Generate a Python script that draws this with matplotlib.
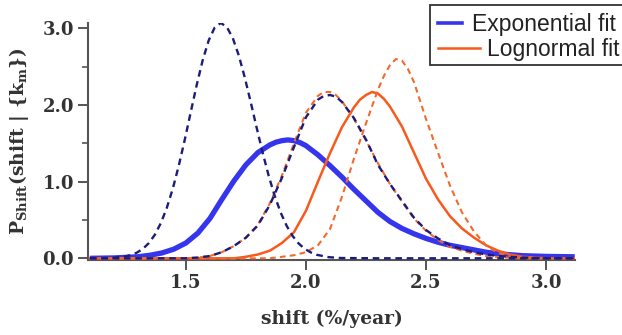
import matplotlib
matplotlib.use("Agg")
import matplotlib.pyplot as plt
from matplotlib.patches import Rectangle
from matplotlib.lines import Line2D
from matplotlib.ticker import MultipleLocator

# ---------------- data ----------------
# navy dashed curve, tall peak near 1.65
xA = [1.10, 1.145, 1.195, 1.245, 1.27, 1.295, 1.32, 1.345, 1.37, 1.395, 1.42, 1.445,
      1.47, 1.495, 1.52, 1.545, 1.57, 1.595, 1.62, 1.645, 1.67, 1.695, 1.72, 1.745,
      1.77, 1.795, 1.82, 1.845, 1.87, 1.895, 1.92, 1.945, 1.97, 1.995, 2.02, 2.045,
      2.095, 2.145, 2.30, 3.12]
yA = [0.0, 0.001, 0.006, 0.023, 0.042, 0.073, 0.122, 0.197, 0.305, 0.456, 0.655, 0.906,
      1.206, 1.545, 1.906, 2.263, 2.586, 2.844, 3.012, 3.070, 3.020, 2.875, 2.649, 2.361,
      2.037, 1.700, 1.374, 1.074, 0.813, 0.595, 0.422, 0.289, 0.192, 0.123, 0.077, 0.046,
      0.015, 0.004, 0.0, 0.0]

# navy dashed curve, peak near 2.10
xB = [1.10, 1.50, 1.55, 1.60, 1.65, 1.70, 1.75, 1.80, 1.85, 1.90, 1.95, 2.00, 2.05,
      2.075, 2.10, 2.125, 2.15, 2.20, 2.25, 2.30, 2.35, 2.40, 2.45, 2.50, 2.55, 2.60,
      2.65, 2.70, 2.75, 2.80, 2.90, 3.00, 3.12]
yB = [0.0, 0.0, 0.01, 0.03, 0.08, 0.16, 0.27, 0.43, 0.70, 1.05, 1.45, 1.84, 2.07,
      2.12, 2.13, 2.11, 2.04, 1.83, 1.55, 1.22, 0.97, 0.75, 0.53, 0.37, 0.26, 0.17,
      0.12, 0.08, 0.05, 0.03, 0.01, 0.0, 0.0]

# orange dashed curve, peak near 2.09
xC = xB
yC = [0.0, 0.0, 0.01, 0.03, 0.08, 0.16, 0.27, 0.44, 0.72, 1.08, 1.50, 1.90, 2.12,
      2.17, 2.17, 2.13, 2.05, 1.82, 1.54, 1.24, 0.97, 0.74, 0.52, 0.36, 0.24, 0.15,
      0.10, 0.06, 0.03, 0.015, 0.0, 0.0, 0.0]

# orange dashed curve, peak near 2.38
xD = [1.10, 1.85, 1.90, 1.95, 2.00, 2.05, 2.10, 2.15, 2.20, 2.25, 2.30, 2.325, 2.35,
      2.375, 2.40, 2.425, 2.45, 2.50, 2.55, 2.60, 2.65, 2.70, 2.75, 2.80, 2.85, 2.90,
      3.00, 3.12]
yD = [0.0, 0.0, 0.02, 0.04, 0.08, 0.17, 0.38, 0.80, 1.30, 1.76, 2.20, 2.38, 2.52,
      2.60, 2.58, 2.47, 2.30, 1.82, 1.38, 0.95, 0.60, 0.35, 0.17, 0.07, 0.03, 0.01,
      0.0, 0.0]

# Lognormal fit (orange solid)
xE = [1.10, 1.70, 1.75, 1.80, 1.85, 1.90, 1.95, 2.00, 2.05, 2.10, 2.15, 2.20, 2.225,
      2.25, 2.275, 2.30, 2.325, 2.35, 2.40, 2.45, 2.50, 2.55, 2.60, 2.65, 2.70, 2.75,
      2.80, 2.85, 2.90, 3.00, 3.12]
yE = [0.0, 0.0, 0.02, 0.05, 0.10, 0.20, 0.34, 0.62, 1.00, 1.37, 1.71, 1.97, 2.07,
      2.13, 2.17, 2.15, 2.08, 1.98, 1.72, 1.38, 1.04, 0.77, 0.55, 0.39, 0.27, 0.17,
      0.10, 0.05, 0.02, 0.0, 0.0]

# Exponential fit (blue solid)
xF = [1.10, 1.20, 1.30, 1.35, 1.40, 1.45, 1.50, 1.55, 1.60, 1.65, 1.70, 1.75, 1.80,
      1.85, 1.875, 1.90, 1.925, 1.95, 1.975, 2.00, 2.05, 2.10, 2.15, 2.20, 2.25, 2.30,
      2.35, 2.40, 2.45, 2.50, 2.55, 2.60, 2.65, 2.70, 2.75, 2.80, 2.90, 3.00, 3.12]
yF = [0.0, 0.005, 0.02, 0.04, 0.07, 0.12, 0.20, 0.33, 0.52, 0.77, 1.01, 1.22, 1.38,
      1.48, 1.515, 1.535, 1.545, 1.535, 1.51, 1.47, 1.35, 1.21, 1.06, 0.90, 0.75, 0.60,
      0.48, 0.39, 0.32, 0.26, 0.21, 0.17, 0.14, 0.11, 0.08, 0.06, 0.035, 0.025, 0.02]

legend_labels = ["Exponential fit", "Lognormal fit"]
x_ticks = [1.5, 2.0, 2.5, 3.0]
y_ticks = [0.0, 1.0, 2.0, 3.0]

# ---------------- styling ----------------
plt.rcParams['font.family'] = ['DejaVu Serif']
plt.rcParams['mathtext.fontset'] = 'custom'
plt.rcParams['mathtext.rm'] = 'DejaVu Serif:bold'
plt.rcParams['mathtext.it'] = 'DejaVu Serif:bold'
plt.rcParams['mathtext.bf'] = 'DejaVu Serif:bold'

BLUE = '#3535ee'
ORANGE = '#f75a1c'
ORANGE_D = '#f26a2c'
NAVY = '#1c1c7a'
SPINE = '#555555'

fig = plt.figure(figsize=(6.22, 3.35), dpi=100)
ax = fig.add_axes([88/622, 1 - 260/335, (575-88)/622, (260-23)/335])

ax.plot(xF, yF, color=BLUE, lw=3.8, solid_capstyle='butt', solid_joinstyle='round', zorder=2)
ax.plot(xE, yE, color=ORANGE, lw=1.8, solid_joinstyle='round', zorder=3)
ax.plot(xD, yD, color=ORANGE_D, lw=1.5, dashes=(2.8, 2.0), zorder=3)
ax.plot(xC, yC, color=ORANGE_D, lw=1.5, dashes=(2.8, 2.0), zorder=3)
ax.plot(xA, yA, color=NAVY, lw=1.7, dashes=(2.8, 2.0), zorder=4)
ax.plot(xB, yB, color=NAVY, lw=1.7, dashes=(2.8, 2.0), zorder=4)

ax.set_xlim(1.092, 3.121)
ax.set_ylim(-0.022, 3.07)
ax.set_xticks(x_ticks)
ax.set_xticklabels([f"{v:.1f}" for v in x_ticks])
ax.set_yticks(y_ticks)
ax.set_yticklabels([f"{v:.1f}" for v in y_ticks])
ax.yaxis.set_minor_locator(MultipleLocator(0.5))

for s in ['top', 'right']:
    ax.spines[s].set_visible(False)
for s in ['left', 'bottom']:
    ax.spines[s].set_color(SPINE)
    ax.spines[s].set_linewidth(1.5)

ax.tick_params(axis='both', which='major', direction='out', color=SPINE, width=1.4,
               length=7, labelsize=13, labelcolor='#333333', pad=3)
ax.tick_params(axis='y', which='minor', direction='out', color=SPINE, width=1.2, length=4.5)
for lab in ax.get_xticklabels() + ax.get_yticklabels():
    lab.set_fontweight('bold')

ax.set_xlabel('shift (%/year)', fontsize=13.5, fontweight='bold', color='#333333', labelpad=13)
ax.set_ylabel(r'P$_{\mathrm{Shift}}$(shift | {k$_{\mathrm{m}}$})', fontsize=13.5,
              fontweight='bold', color='#333333', labelpad=8)

# ---------------- legend (drawn by hand, box runs past the right edge) -------------
fig.add_artist(Rectangle((430/622, 1 - 65/335), 0.5, 60/335, transform=fig.transFigure,
                         facecolor='white', edgecolor='#333333', lw=1.3, zorder=10))
fig.add_artist(Line2D([438/622, 462/622], [1 - 22.7/335] * 2, transform=fig.transFigure,
                      color=BLUE, lw=2.6, zorder=11))
fig.add_artist(Line2D([438/622, 480/622], [1 - 48/335] * 2, transform=fig.transFigure,
                      color=ORANGE, lw=1.8, zorder=11))
fig.text(472/622, 1 - 30.5/335, legend_labels[0], family=['Liberation Sans', 'DejaVu Sans'],
         fontsize=16.5, color='#222222', va='baseline', ha='left', zorder=12)
fig.text(487/622, 1 - 56/335, legend_labels[1], family=['Liberation Sans', 'DejaVu Sans'],
         fontsize=16.5, color='#222222', va='baseline', ha='left', zorder=12)

fig.savefig('out.png', dpi=100)
